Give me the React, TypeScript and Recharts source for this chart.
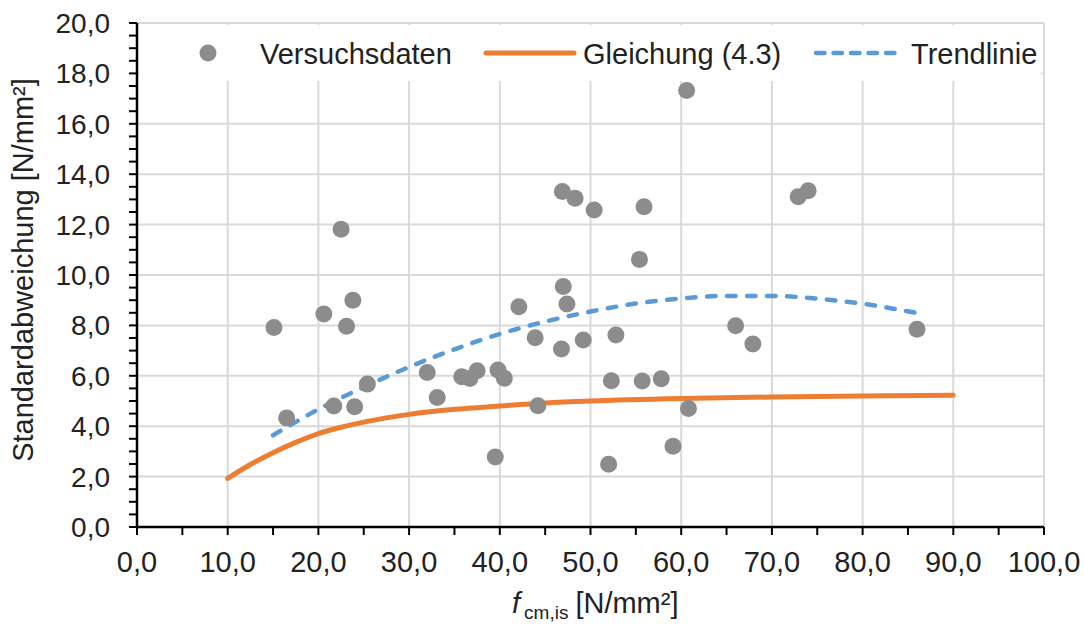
import React from 'react';
import { ComposedChart, Line, Scatter, XAxis, YAxis, CartesianGrid } from 'recharts';

// Versuchsdaten (x = f_cm,is, y = Standardabweichung)
const versuchX = [15.1, 16.5, 20.6, 21.7, 22.5, 23.1, 23.8, 24.0, 25.4, 32.0, 33.1, 35.8, 36.7, 37.5, 39.5, 39.8, 40.5, 42.1, 43.9, 44.2, 46.8, 46.9, 47.0, 47.4, 48.3, 49.2, 50.4, 52.0, 52.3, 52.8, 55.4, 55.7, 55.9, 57.8, 59.1, 60.6, 60.8, 66.0, 67.9, 72.9, 74.0, 86.0];
const versuchY = [7.92, 4.33, 8.45, 4.80, 11.82, 7.97, 9.00, 4.77, 5.67, 6.13, 5.14, 5.96, 5.89, 6.20, 2.78, 6.23, 5.90, 8.74, 7.51, 4.81, 7.06, 13.31, 9.54, 8.85, 13.05, 7.42, 12.58, 2.49, 5.80, 7.62, 10.62, 5.79, 12.71, 5.88, 3.20, 17.32, 4.70, 7.99, 7.26, 13.11, 13.34, 7.85];

// Gleichung (4.3)
const gleichungX = [10, 12.5, 15, 17.5, 20, 22.5, 25, 27.5, 30, 35, 40, 45, 50, 60, 70, 80, 90];
const gleichungY = [1.93, 2.48, 2.95, 3.36, 3.71, 3.96, 4.16, 4.33, 4.47, 4.67, 4.80, 4.92, 5.00, 5.10, 5.16, 5.20, 5.23];

// Trendlinie
const trendX = [15, 20, 25, 30, 35, 40, 45, 50, 55, 60, 65, 70, 75, 80, 86];
const trendY = [3.64, 4.67, 5.55, 6.35, 7.05, 7.66, 8.15, 8.55, 8.87, 9.07, 9.17, 9.17, 9.06, 8.86, 8.49];

const xTicks = [0, 5, 10, 15, 20, 25, 30, 35, 40, 45, 50, 55, 60, 65, 70, 75, 80, 85, 90, 95, 100];
const yTicks = [0, 0.5, 1, 1.5, 2, 2.5, 3, 3.5, 4, 4.5, 5, 5.5, 6, 6.5, 7, 7.5, 8, 8.5, 9, 9.5, 10, 10.5, 11, 11.5, 12, 12.5, 13, 13.5, 14, 14.5, 15, 15.5, 16, 16.5, 17, 17.5, 18, 18.5, 19, 19.5, 20];
const xGrid = [10, 20, 30, 40, 50, 60, 70, 80, 90, 100];
const yGrid = [2, 4, 6, 8, 10, 12, 14, 16, 18, 20];

const versuchsdaten = versuchX.map((x, i) => ({ x, y: versuchY[i] }));
const gleichung = gleichungX.map((x, i) => ({ x, y: gleichungY[i] }));
const trend = trendX.map((x, i) => ({ x, y: trendY[i] }));

const FONT = '"Liberation Sans", Arial, sans-serif';
const GREY = '#8c8c8c';
const ORANGE = '#ED7D31';
const BLUE = '#5B9BD5';
const TEXT = '#222';

const fmt = (v: number) => v.toFixed(1).replace('.', ',');

const Dot = (p: any) => <circle cx={p.cx} cy={p.cy} r={8.5} fill={GREY} />;

export default function App() {
  return (
    <div style={{ position: 'absolute', left: 0, top: 0, width: 1084, height: 624, background: '#fff', fontFamily: FONT }}>
      <ComposedChart width={1084} height={624} margin={{ top: 23, right: 40, bottom: 0, left: 0 }}>
        <CartesianGrid stroke="#d9d9d9" strokeWidth={2} horizontalValues={yGrid} verticalValues={xGrid} />
        <XAxis
          type="number"
          dataKey="x"
          domain={[0, 100]}
          ticks={xTicks}
          interval={0}
          height={97}
          tickSize={8}
          tickMargin={16}
          axisLine={{ stroke: '#000', strokeWidth: 2.5 }}
          tickLine={{ stroke: '#000', strokeWidth: 2 }}
          tick={{ fontSize: 29, fill: TEXT, fontFamily: FONT }}
          tickFormatter={(v: number) => (v % 10 === 0 ? fmt(v) : '')}
        />
        <YAxis
          type="number"
          dataKey="y"
          domain={[0, 20]}
          ticks={yTicks}
          interval={0}
          width={137}
          tickSize={8}
          tickMargin={19}
          axisLine={{ stroke: '#000', strokeWidth: 2.5 }}
          tickLine={{ stroke: '#000', strokeWidth: 2 }}
          tick={{ fontSize: 28, fill: TEXT, fontFamily: FONT }}
          tickFormatter={(v: number) => (v % 2 === 0 ? fmt(v) : '')}
        />
        <Line data={gleichung} dataKey="y" type="monotone" stroke={ORANGE} strokeWidth={5} strokeLinecap="round" dot={false} activeDot={false} isAnimationActive={false} />
        <Scatter data={versuchsdaten} dataKey="y" shape={Dot} isAnimationActive={false} />
        <Line data={trend} dataKey="y" type="monotone" stroke={BLUE} strokeWidth={4.5} strokeDasharray="8.5 11.5" strokeLinecap="round" dot={false} activeDot={false} isAnimationActive={false} />
      </ComposedChart>

      <svg width={1084} height={624} style={{ position: 'absolute', left: 0, top: 0, pointerEvents: 'none' }} fontFamily={FONT}>
        {/* legend */}
        <rect x={139} y={25} width={902} height={56} fill="#fff" />
        <circle cx={208} cy={53} r={8.5} fill={GREY} />
        <text x={260} y={64} fontSize={29} fill={TEXT}>Versuchsdaten</text>
        <line x1={486} y1={53} x2={574} y2={53} stroke={ORANGE} strokeWidth={5} strokeLinecap="round" />
        <text x={583} y={64} fontSize={29} fill={TEXT}>Gleichung (4.3)</text>
        <line x1={816} y1={53} x2={900} y2={53} stroke={BLUE} strokeWidth={4.5} strokeDasharray="8.5 9" strokeLinecap="round" />
        <text x={911} y={64} fontSize={29} fill={TEXT}>Trendlinie</text>

        {/* axis titles */}
        <text x={33} y={270} fontSize={29} fill={TEXT} textAnchor="middle" transform="rotate(-90, 33, 270)">
          Standardabweichung [N/mm²]
        </text>
        <text x={512} y={613} fontSize={29} fill={TEXT}>
          <tspan fontStyle="italic">f</tspan>
          <tspan fontSize={19} dy={6} dx={4}>cm,is</tspan>
          <tspan dy={-6} dx={7}>[N/mm²]</tspan>
        </text>
      </svg>
    </div>
  );
}
